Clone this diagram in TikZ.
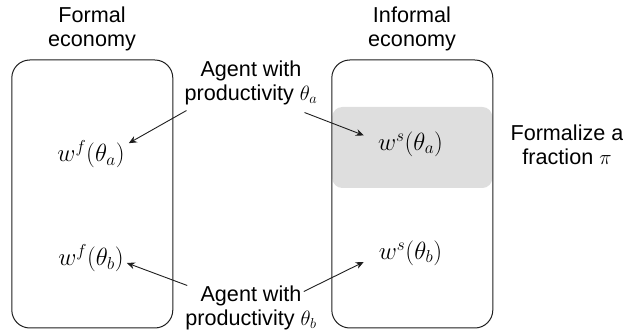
\documentclass[tikz,border=0pt]{standalone}
\usepackage{amsmath,amssymb}
\usepackage{fontspec}
\setsansfont{Liberation Sans}
\usepackage{tikz}
\usetikzlibrary{arrows.meta,positioning,calc}
\definecolor{boxline}{RGB}{30,30,30}
\definecolor{shade}{RGB}{222,222,222}

\begin{document}
\begin{tikzpicture}[x=1pt,y=1pt,
    lbl/.style={font=\sffamily\fontsize{21.6}{24.5}\selectfont,align=center,inner sep=0pt},
    wage/.style={font=\fontsize{25}{29}\selectfont,inner sep=0pt},
    econbox/.style={draw=boxline,line width=1pt,rounded corners=18pt,minimum width=161pt,minimum height=268pt,inner sep=0pt},
    arr/.style={-{Stealth[length=8pt,width=7pt]},line width=0.9pt,boxline}]
  \useasboundingbox (0,0) rectangle (623,334);
  % ---- the two economies
  \node[fill=shade,rounded corners=10pt,minimum width=160pt,minimum height=81pt,inner sep=0pt] (pool) at (412.3,186.5) {};
  \node[econbox] (formalbox) at (92.3,140) {};
  \node[econbox] (informalbox) at (412.3,140) {};
  \node[lbl] (formal) at (92,305) {Formal\\economy};
  \node[lbl] (informal) at (412,305) {Informal\\economy};
  % ---- wages
  \node[wage] (wfa) at (91,180) {$w^f(\theta_a)$};
  \node[wage] (wfb) at (91,76) {$w^f(\theta_b)$};
  \node[wage] (wsa) at (410.5,190) {$w^s(\theta_a)$};
  \node[wage] (wsb) at (410.5,81) {$w^s(\theta_b)$};
  % ---- agents
  \node[lbl] (agenta) at (251,251) {Agent with\\productivity $\theta_a$};
  \node[lbl] (agentb) at (251,26) {Agent with\\productivity $\theta_b$};
  \node[lbl] (formalize) at (567,189) {Formalize a\\fraction $\pi$};
  \draw[arr] ([shift={(2,-5)}]agenta.south west) -- ([shift={(4,-3)}]wfa.north east);
  \draw[arr] ([shift={(-13,-7)}]agenta.south east) -- ([shift={(-14,-4)}]wsa.north west);
  \draw[arr] ([shift={(2,0)}]agentb.north west) -- ([shift={(3,-5)}]wfb.east);
  \draw[arr] ([shift={(-13,-6)}]agentb.north east) -- ([shift={(-15,-9)}]wsb.west);
\end{tikzpicture}
\end{document}
